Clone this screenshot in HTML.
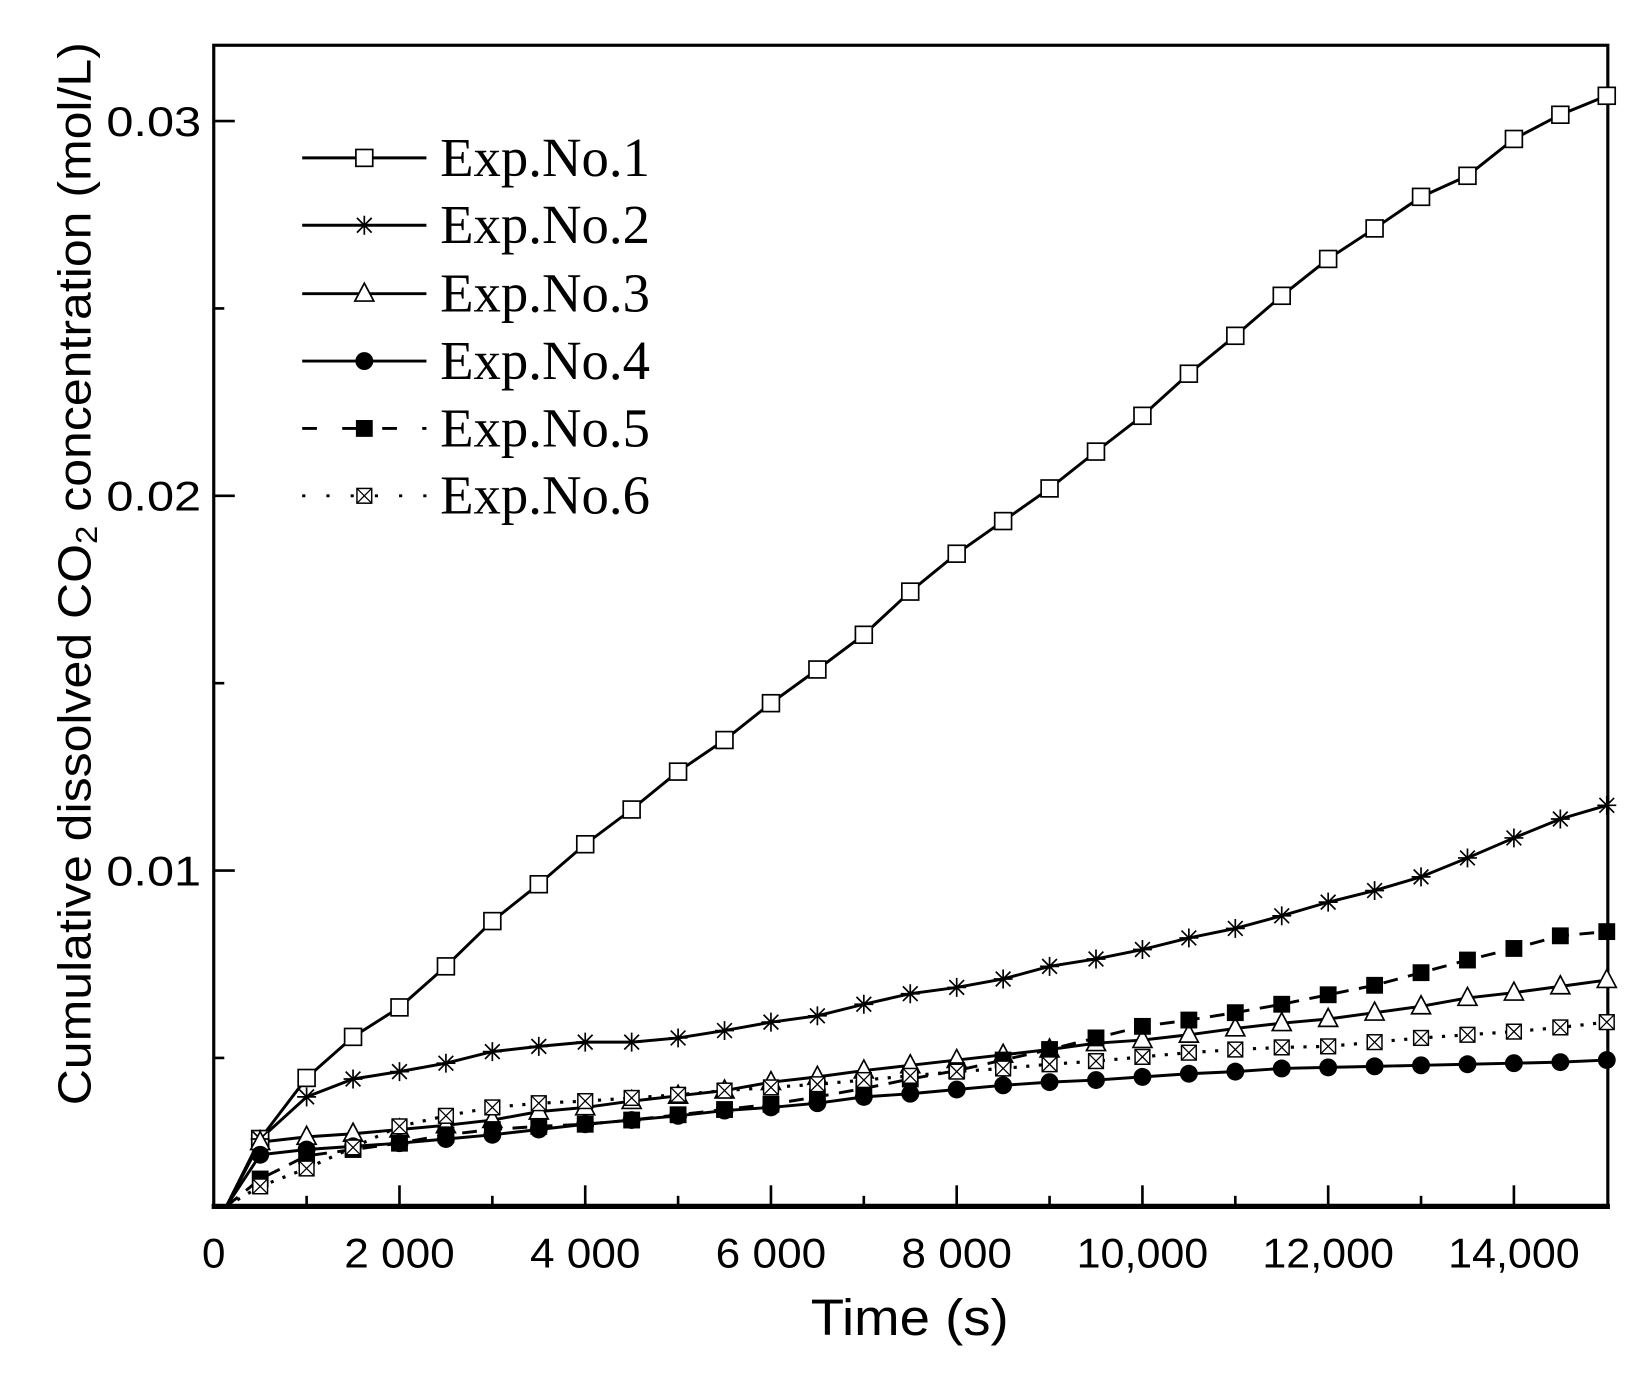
<!DOCTYPE html>
<html><head><meta charset="utf-8"><style>html,body{margin:0;padding:0;background:#fff;overflow:hidden}svg{display:block}</style></head>
<body>
<svg id="s" width="1651" height="1379" viewBox="0 0 1568 1310" preserveAspectRatio="none" xmlns="http://www.w3.org/2000/svg"></svg>
<script>
const s=document.getElementById('s');let h='';
const X=t=>203+t*0.0882;
h+='<rect x="203" y="43" width="1324" height="1103" fill="none" stroke="#000" stroke-width="3"/>';
h+='<line x1="201" y1="1146" x2="1529" y2="1146" stroke="#000" stroke-width="5"/>';
for(let t=1000;t<=14000;t+=1000){const x=X(t);h+=`<line x1="${x}" y1="1146" x2="${x}" y2="${1146-(t%2000?10:20)}" stroke="#000" stroke-width="2.5"/>`;}
const xl=['0','2 000','4 000','6 000','8 000','10,000','12,000','14,000'];
xl.forEach((l,i)=>{h+=`<text x="${X(i*2000)}" y="1204" font-family="Liberation Sans,sans-serif" font-size="40" text-anchor="middle" ${l.length>1?`textLength="${l.length>5?125:105}" lengthAdjust="spacingAndGlyphs"`:''}>${l}</text>`;});
const Y=v=>827-(v-0.01)*35600;
[0.005,0.01,0.015,0.02,0.025,0.03].forEach(v=>{const y=Y(v);const maj=Math.abs(v*100-Math.round(v*100))<1e-9;h+=`<line x1="203" y1="${y}" x2="${203+(maj?20:10)}" y2="${y}" stroke="#000" stroke-width="2.5"/>`;if(maj)h+=`<text x="191" y="${y+14}" font-family="Liberation Sans,sans-serif" font-size="40" text-anchor="end" textLength="90" lengthAdjust="spacingAndGlyphs">${v.toFixed(2)}</text>`;});
h+='<text x="864" y="1268" font-family="Liberation Sans,sans-serif" font-size="48" text-anchor="middle" textLength="188" lengthAdjust="spacingAndGlyphs">Time (s)</text>';
h+='<text transform="translate(86,545) rotate(-90)" font-family="Liberation Sans,sans-serif" font-size="44" text-anchor="middle" textLength="1010" lengthAdjust="spacingAndGlyphs">Cumulative dissolved CO<tspan font-size="29" dy="6">2</tspan><tspan dy="-6"> concentration (mol/L)</tspan></text>';
const D=[
[1082,1024,985,957,918,875,840,802,769,733,703,668,636,603,562,526,495,464,429,395,355,319,281,246,217,187,167,132,109,91],
[1082,1042,1025,1018,1010,999,994,990,990,986,979,971,965,954,944,938,930,918,911,902,891,882,870,857,846,833,815,796,778,765],
[1085,1080,1077,1073,1069,1064,1056,1052,1046,1041,1036,1028,1023,1017,1012,1007,1002,997,991,988,983,977,972,968,962,956,948,943,937,931],
[1097,1092,1089,1086,1082,1078,1073,1068,1064,1060,1055,1052,1048,1042,1039,1035,1031,1028,1026,1023,1020,1018,1015,1014,1013,1012,1011,1010,1009,1007],
[1120,1098,1092,1086,1078,1073,1070,1068,1064,1059,1054,1049,1042,1034,1025,1017,1007,997,986,975,969,962,954,945,936,924,912,901,889,885],
[1127,1110,1090,1070,1060,1052,1048,1046,1043,1040,1036,1033,1030,1026,1022,1018,1015,1011,1008,1004,1000,997,995,994,990,986,983,980,976,971]];
const dash=['','','','','14,10','3,9'];
function mk(k,x,y){
 if(k==0)return `<rect x="${x-8}" y="${y-8}" width="16" height="16" fill="#fff" stroke="#000" stroke-width="1.6"/>`;
 if(k==1)return `<path d="M${x-9} ${y}H${x+9}M${x} ${y-9}V${y+9}M${x-7} ${y-7}L${x+7} ${y+7}M${x-7} ${y+7}L${x+7} ${y-7}" stroke="#000" stroke-width="1.6"/>`;
 if(k==2)return `<path d="M${x} ${y-10}L${x+9} ${y+7}H${x-9}Z" fill="#fff" stroke="#000" stroke-width="1.6"/>`;
 if(k==3)return `<circle cx="${x}" cy="${y}" r="8.5" fill="#000"/>`;
 if(k==4)return `<rect x="${x-8}" y="${y-8}" width="16" height="16" fill="#000"/>`;
 return `<rect x="${x-7}" y="${y-7}" width="14" height="14" fill="#fff" stroke="#000" stroke-width="1.4"/><path d="M${x-7} ${y-7}L${x+7} ${y+7}M${x-7} ${y+7}L${x+7} ${y-7}" stroke="#000" stroke-width="1.2"/>`;
}
D.forEach((d,k)=>{let p=`M215 1146`;d.forEach((y,i)=>p+=` L${X(500*(i+1))} ${y}`);
 h+=`<path d="${p}" fill="none" stroke="#000" stroke-width="${k==5?3:2.8}" ${dash[k]?`stroke-dasharray="${dash[k]}"`:''}/>`;});
D.forEach((d,k)=>d.forEach((y,i)=>h+=mk(k,X(500*(i+1)),y)));
[150,214,279,343,407,471].forEach((y,k)=>{
 h+=`<line x1="287" y1="${y}" x2="405" y2="${y}" stroke="#000" stroke-width="2.8" ${dash[k]?`stroke-dasharray="${k==4?'14,24':'3,20'}"`:''}/>`;
 h+=mk(k,346,y);
 h+=`<text x="418" y="${y+17}" font-family="Liberation Serif,serif" font-size="52">Exp.No.${k+1}</text>`;});
s.innerHTML=h;
</script>
</body></html>
